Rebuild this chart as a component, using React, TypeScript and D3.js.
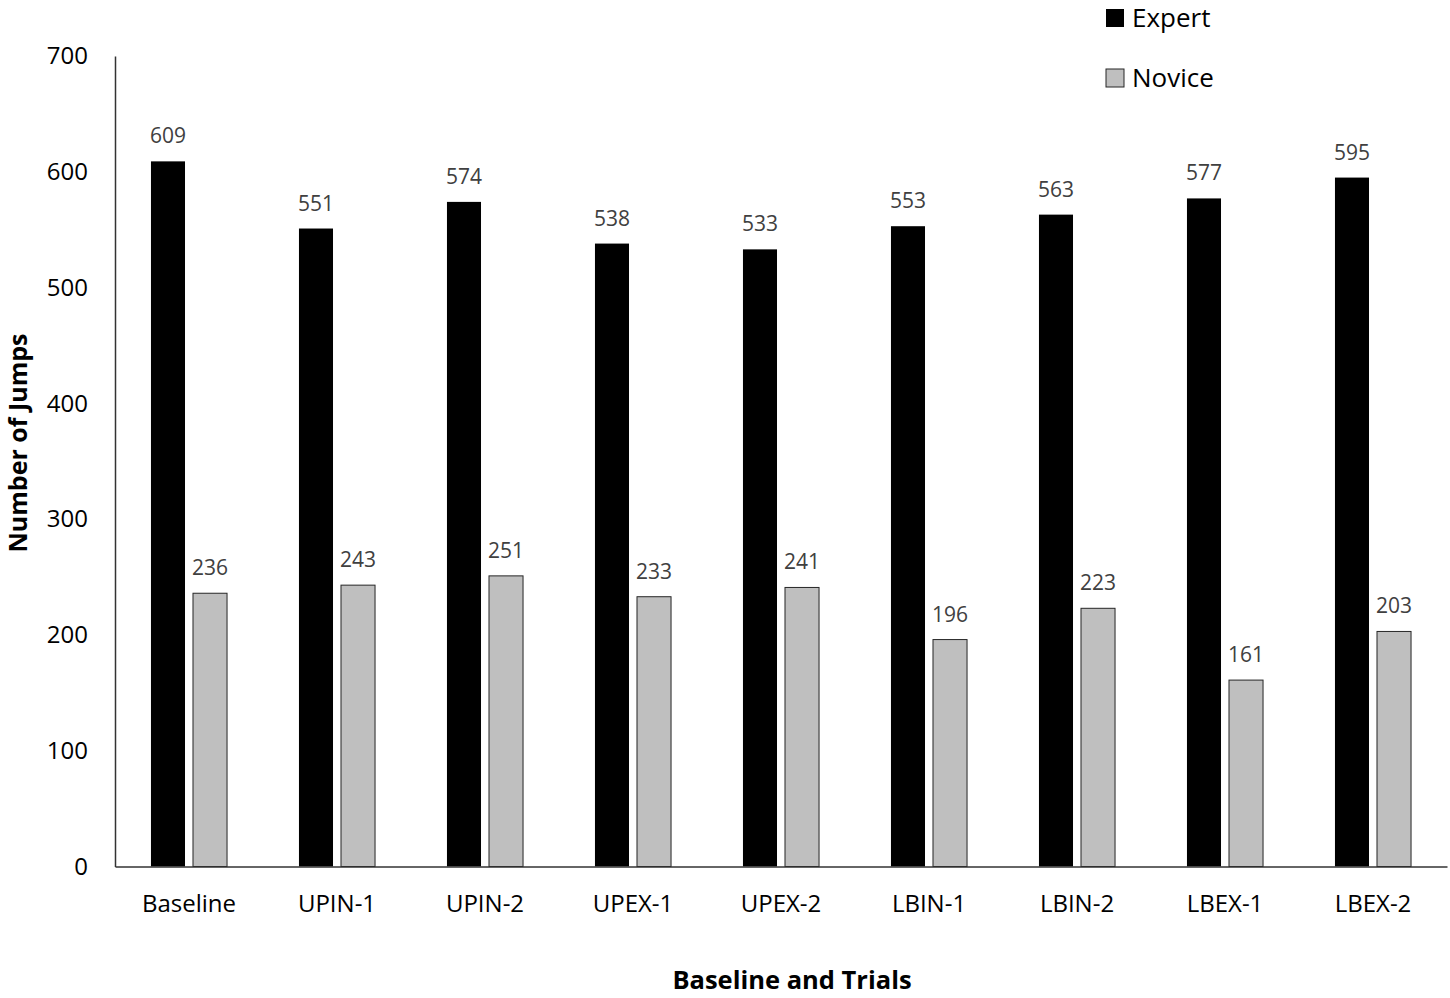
import React, { useEffect, useRef } from "react";
import { axisBottom, axisLeft, scaleBand, scaleLinear, select } from "d3";

const categories = [
  "Baseline",
  "UPIN-1",
  "UPIN-2",
  "UPEX-1",
  "UPEX-2",
  "LBIN-1",
  "LBIN-2",
  "LBEX-1",
  "LBEX-2",
];
const expert = [609, 551, 574, 538, 533, 553, 563, 577, 595];
const novice = [236, 243, 251, 233, 241, 196, 223, 161, 203];
const seriesNames = ["Expert", "Novice"];
const yTicks = [0, 100, 200, 300, 400, 500, 600, 700];

const width = 1450;
const height = 998;
const font = "'Open Sans', 'Noto Sans', sans-serif";
const colors = ["#000000", "#bfbfbf"];

export default function App() {
  const svgRef = useRef<SVGSVGElement | null>(null);

  useEffect(() => {
    const svg = select(svgRef.current);
    svg.selectAll("*").remove();

    const x = scaleBand<string>()
      .domain(categories)
      .range([115, 1447])
      .paddingInner(0.486)
      .paddingOuter(0.243);

    const inner = scaleBand<string>()
      .domain(seriesNames)
      .range([0, x.bandwidth()])
      .paddingInner(0.19);

    const y = scaleLinear().domain([0, 700]).range([866.5, 56]);

    // y axis
    const yAxis = svg
      .append("g")
      .attr("transform", `translate(${x.range()[0]},0)`)
      .call(axisLeft(y).tickValues(yTicks).tickSize(0).tickPadding(27));
    yAxis.select(".domain").attr("stroke", "#333").attr("stroke-width", 1.5);
    yAxis
      .selectAll("text")
      .attr("font-family", font)
      .attr("font-size", 24)
      .attr("fill", "#000");

    // bars
    const rows = categories.map((c, i) => ({ c, values: [expert[i], novice[i]] }));
    const groups = svg
      .selectAll("g.grp")
      .data(rows)
      .join("g")
      .attr("class", "grp")
      .attr("transform", (d) => `translate(${x(d.c)},0)`);

    groups
      .selectAll("rect")
      .data((d) => d.values.map((v, k) => ({ v, k })))
      .join("rect")
      .attr("x", (d) => inner(seriesNames[d.k]) as number)
      .attr("width", inner.bandwidth())
      .attr("y", (d) => y(d.v))
      .attr("height", (d) => y(0) - y(d.v))
      .attr("fill", (d) => colors[d.k])
      .attr("stroke", (d) => (d.k === 1 ? "#262626" : "none"))
      .attr("stroke-width", 1);

    groups
      .selectAll("text.lbl")
      .data((d) => d.values.map((v, k) => ({ v, k })))
      .join("text")
      .attr("class", "lbl")
      .attr("x", (d) => (inner(seriesNames[d.k]) as number) + inner.bandwidth() / 2)
      .attr("y", (d) => y(d.v) - 18)
      .attr("text-anchor", "middle")
      .attr("font-family", font)
      .attr("font-size", 21)
      .attr("fill", "#404040")
      .text((d) => d.v);

    // x axis
    const xAxis = svg
      .append("g")
      .attr("transform", `translate(0,${y(0)})`)
      .call(axisBottom(x).tickSize(0).tickSizeOuter(0).tickPadding(28));
    xAxis.select(".domain").attr("stroke", "#333").attr("stroke-width", 1.5);
    xAxis
      .selectAll("text")
      .attr("font-family", font)
      .attr("font-size", 24)
      .attr("fill", "#000");

    // axis titles
    svg
      .append("text")
      .attr("transform", "translate(27,443) rotate(-90)")
      .attr("text-anchor", "middle")
      .attr("font-family", font)
      .attr("font-weight", "bold")
      .attr("font-size", 25)
      .attr("fill", "#000")
      .text("Number of Jumps");

    svg
      .append("text")
      .attr("x", 792)
      .attr("y", 989)
      .attr("text-anchor", "middle")
      .attr("font-family", font)
      .attr("font-weight", "bold")
      .attr("font-size", 25.5)
      .attr("fill", "#000")
      .text("Baseline and Trials");

    // legend
    const legend = svg
      .selectAll("g.leg")
      .data(seriesNames)
      .join("g")
      .attr("class", "leg")
      .attr("transform", (_, i) => `translate(1106,${9 + i * 60})`);
    legend
      .append("rect")
      .attr("width", 18)
      .attr("height", 18)
      .attr("fill", (_, i) => colors[i])
      .attr("stroke", (_, i) => (i === 1 ? "#262626" : "none"));
    legend
      .append("text")
      .attr("x", 26)
      .attr("y", 18)
      .attr("font-family", font)
      .attr("font-size", 26)
      .attr("fill", "#000")
      .text((d) => d);
  }, []);

  return (
    <svg
      ref={svgRef}
      width={width}
      height={height}
      style={{ position: "absolute", left: 0, top: 0, background: "#fff" }}
    ></svg>
  );
}
